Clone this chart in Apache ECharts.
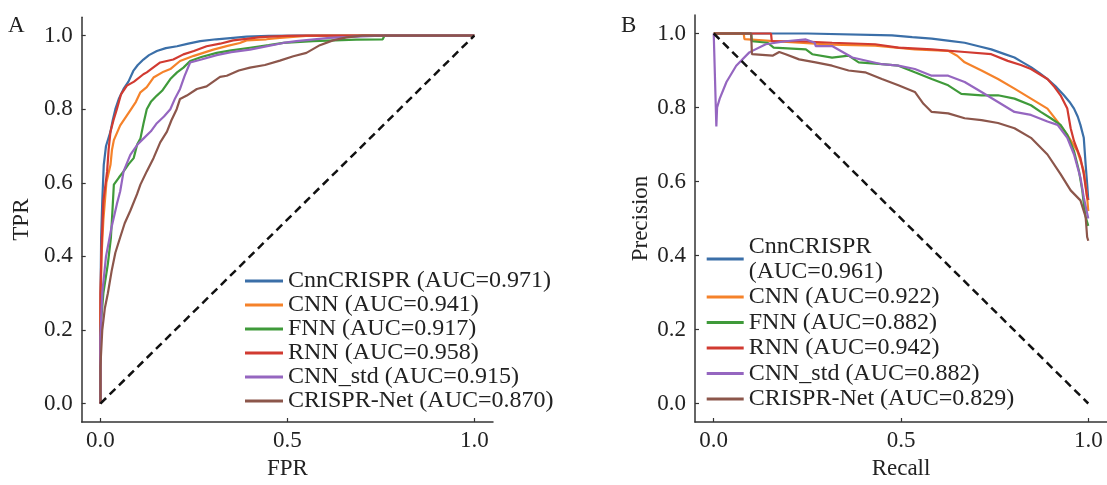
<!DOCTYPE html>
<html>
<head>
<meta charset="utf-8">
<script src="https://cdn.jsdelivr.net/npm/echarts@6/dist/echarts.min.js"></script>
<style>
  html, body { margin: 0; padding: 0; background: #ffffff; }
  #chart { width: 1107px; height: 485px; }
</style>
</head>
<body>
<div id="chart"></div>
<script>
// Model names, in legend order
const modelNames = ['CnnCRISPR', 'CNN', 'FNN', 'RNN', 'CNN_std', 'CRISPR-Net'];
const rocAuc = [0.971, 0.941, 0.917, 0.958, 0.915, 0.870];
const prAuc = [0.961, 0.922, 0.882, 0.942, 0.882, 0.829];
const axisTicks = [0, 0.5, 1];
const yTicks = [0, 0.2, 0.4, 0.6, 0.8, 1.0];

// ROC curves: [FPR, TPR]
const rocCnnCrispr = [[0,0],[0,0.2],[0.001,0.35],[0.002,0.45],[0.005,0.55],[0.009,0.649],[0.015,0.70],[0.027,0.739],[0.033,0.77],[0.04,0.80],[0.05,0.83],[0.062,0.855],[0.075,0.875],[0.088,0.904],[0.1,0.92],[0.115,0.935],[0.13,0.947],[0.151,0.958],[0.175,0.966],[0.205,0.971],[0.235,0.978],[0.267,0.985],[0.31,0.99],[0.355,0.994],[0.391,0.997],[0.45,0.999],[0.525,1.0],[1,1]];
const rocCnn = [[0,0],[0,0.25],[0.003,0.4],[0.008,0.5],[0.016,0.6],[0.027,0.649],[0.031,0.69],[0.036,0.716],[0.053,0.756],[0.08,0.797],[0.095,0.82],[0.107,0.846],[0.124,0.86],[0.142,0.886],[0.169,0.902],[0.187,0.909],[0.213,0.931],[0.25,0.945],[0.302,0.962],[0.34,0.972],[0.373,0.98],[0.391,0.987],[0.444,0.99],[0.48,0.994],[0.55,0.999],[0.6,1.0],[1,1]];
const rocFnn = [[0,0],[0,0.2],[0.008,0.3],[0.02,0.38],[0.028,0.45],[0.032,0.52],[0.036,0.595],[0.05,0.615],[0.062,0.631],[0.075,0.65],[0.089,0.667],[0.098,0.703],[0.107,0.72],[0.115,0.76],[0.124,0.80],[0.135,0.82],[0.151,0.837],[0.165,0.85],[0.187,0.882],[0.205,0.9],[0.222,0.913],[0.24,0.931],[0.27,0.942],[0.311,0.953],[0.35,0.96],[0.4,0.967],[0.45,0.974],[0.489,0.98],[0.569,0.985],[0.684,0.989],[0.755,0.99],[0.76,1.0],[1,1]];
const rocRnn = [[0,0],[0,0.3],[0.004,0.45],[0.008,0.55],[0.018,0.631],[0.022,0.69],[0.027,0.739],[0.035,0.77],[0.044,0.80],[0.055,0.84],[0.071,0.864],[0.09,0.875],[0.115,0.895],[0.124,0.9],[0.14,0.912],[0.16,0.927],[0.195,0.935],[0.222,0.949],[0.25,0.958],[0.284,0.971],[0.32,0.978],[0.355,0.987],[0.39,0.991],[0.427,0.996],[0.5,0.999],[0.55,1.0],[1,1]];
const rocCnnStd = [[0,0],[0,0.18],[0.005,0.3],[0.015,0.4],[0.03,0.48],[0.044,0.542],[0.053,0.577],[0.062,0.631],[0.08,0.676],[0.1,0.705],[0.115,0.72],[0.135,0.74],[0.151,0.762],[0.17,0.78],[0.187,0.80],[0.2,0.83],[0.213,0.855],[0.225,0.89],[0.24,0.927],[0.27,0.935],[0.311,0.947],[0.35,0.955],[0.4,0.962],[0.45,0.972],[0.489,0.98],[0.524,0.985],[0.613,0.994],[0.7,0.998],[0.75,1.0],[1,1]];
const rocCrisprNet = [[0,0],[0,0.1],[0.005,0.2],[0.012,0.26],[0.02,0.3],[0.03,0.36],[0.04,0.41],[0.053,0.452],[0.065,0.49],[0.08,0.524],[0.098,0.569],[0.107,0.595],[0.124,0.631],[0.142,0.667],[0.16,0.71],[0.178,0.739],[0.19,0.77],[0.204,0.80],[0.213,0.828],[0.231,0.837],[0.258,0.855],[0.284,0.862],[0.32,0.888],[0.338,0.891],[0.37,0.905],[0.4,0.913],[0.44,0.92],[0.48,0.932],[0.516,0.944],[0.551,0.953],[0.587,0.974],[0.622,0.987],[0.658,0.995],[0.7,1.0],[1,1]];

// Precision-recall curves: [Recall, Precision]
const prCnnCrispr = [[0,1],[0.25,1],[0.252,0.995],[0.476,0.995],[0.53,0.99],[0.582,0.986],[0.63,0.98],[0.67,0.975],[0.71,0.965],[0.741,0.957],[0.775,0.945],[0.803,0.935],[0.825,0.922],[0.847,0.909],[0.87,0.893],[0.891,0.877],[0.915,0.855],[0.935,0.833],[0.95,0.815],[0.962,0.797],[0.972,0.775],[0.979,0.753],[0.988,0.718],[0.993,0.646],[0.997,0.593],[1.0,0.55]];
const prCnn = [[0,1],[0.08,1],[0.082,0.985],[0.15,0.98],[0.228,0.975],[0.316,0.97],[0.431,0.967],[0.537,0.957],[0.626,0.953],[0.65,0.94],[0.67,0.922],[0.715,0.90],[0.759,0.877],[0.803,0.851],[0.847,0.824],[0.891,0.797],[0.918,0.762],[0.944,0.726],[0.971,0.682],[0.988,0.629],[0.997,0.557],[1.0,0.52]];
const prFnn = [[0,1],[0.10,1],[0.102,0.979],[0.144,0.975],[0.16,0.962],[0.246,0.957],[0.263,0.944],[0.316,0.935],[0.36,0.94],[0.387,0.922],[0.449,0.917],[0.493,0.913],[0.537,0.895],[0.582,0.877],[0.626,0.86],[0.661,0.837],[0.715,0.833],[0.759,0.833],[0.803,0.824],[0.847,0.806],[0.873,0.788],[0.9,0.771],[0.926,0.753],[0.944,0.726],[0.962,0.682],[0.975,0.629],[0.984,0.576],[0.988,0.54],[0.993,0.504],[1.0,0.48]];
const prRnn = [[0,1],[0.153,1],[0.155,0.979],[0.228,0.979],[0.316,0.975],[0.431,0.971],[0.493,0.962],[0.582,0.957],[0.67,0.95],[0.741,0.944],[0.785,0.926],[0.82,0.915],[0.847,0.904],[0.87,0.89],[0.891,0.877],[0.91,0.855],[0.926,0.833],[0.944,0.797],[0.953,0.744],[0.962,0.709],[0.979,0.664],[0.988,0.62],[0.997,0.557],[1.0,0.55]];
const prCnnStd = [[0,1],[0.007,0.749],[0.009,0.8],[0.016,0.824],[0.034,0.869],[0.06,0.913],[0.095,0.949],[0.139,0.971],[0.192,0.979],[0.246,0.984],[0.27,0.975],[0.272,0.966],[0.316,0.966],[0.37,0.935],[0.449,0.917],[0.493,0.913],[0.537,0.904],[0.582,0.886],[0.626,0.886],[0.67,0.869],[0.715,0.842],[0.759,0.815],[0.803,0.788],[0.847,0.78],[0.891,0.762],[0.918,0.753],[0.944,0.718],[0.962,0.673],[0.979,0.611],[0.988,0.557],[1.0,0.50]];
const prCrisprNet = [[0,1],[0.10,1],[0.102,0.944],[0.157,0.94],[0.175,0.95],[0.192,0.944],[0.228,0.93],[0.272,0.922],[0.316,0.913],[0.36,0.90],[0.404,0.895],[0.449,0.877],[0.493,0.86],[0.537,0.842],[0.56,0.81],[0.582,0.788],[0.626,0.784],[0.67,0.771],[0.715,0.766],[0.759,0.758],[0.803,0.744],[0.847,0.718],[0.891,0.673],[0.926,0.62],[0.953,0.576],[0.979,0.549],[0.993,0.504],[0.997,0.45],[1.0,0.44]];

// Chance lines
const rocChance = [[0,0],[1,1]];
const prChance = [[0,1],[1,0]];

const rocCurves = [rocCnnCrispr, rocCnn, rocFnn, rocRnn, rocCnnStd, rocCrisprNet];
const prCurves = [prCnnCrispr, prCnn, prFnn, prRnn, prCnnStd, prCrisprNet];
const colors = ['#3b6fa8', '#f5822a', '#3f9a3a', '#d13a31', '#9566c0', '#8c564b'];

const FONT = 'Liberation Serif';
const TEXT = '#222222';
const AXIS = '#333333';

function label(name, auc) { return name + ' (AUC=' + auc.toFixed(3) + ')'; }
const rocNames = modelNames.map((n, i) => label(n, rocAuc[i]));
const prNames = modelNames.map((n, i) => label(n, prAuc[i]));

function makeAxis(gridIndex, name, nameGap, ticks, isX) {
  return {
    type: 'value', gridIndex, min: -0.05, max: 1.05,
    name, nameLocation: 'middle', nameGap,
    nameTextStyle: { fontFamily: FONT, fontSize: 23, color: TEXT },
    axisLine: { show: true, onZero: false, lineStyle: { color: AXIS, width: 1.5 } },
    axisTick: { show: true, inside: true, length: 4, customValues: ticks, lineStyle: { color: AXIS, width: 1.2 } },
    axisLabel: { customValues: ticks, formatter: v => v.toFixed(1), margin: isX ? 7 : 9,
                 fontFamily: FONT, fontSize: 23, color: TEXT },
    splitLine: { show: false }
  };
}

const series = [];
rocCurves.forEach((d, i) => series.push({
  type: 'line', name: rocNames[i], xAxisIndex: 0, yAxisIndex: 0, data: d,
  showSymbol: false, symbol: 'none', color: colors[i],
  lineStyle: { color: colors[i], width: 2.2 }, itemStyle: { color: colors[i] }
}));
series.push({
  type: 'line', name: 'chance-roc', xAxisIndex: 0, yAxisIndex: 0, data: rocChance,
  showSymbol: false, symbol: 'none', lineStyle: { color: '#111', width: 2.5, type: [8, 5] }, z: 3
});
prCurves.forEach((d, i) => series.push({
  type: 'line', name: prNames[i], xAxisIndex: 1, yAxisIndex: 1, data: d,
  showSymbol: false, symbol: 'none', color: colors[i],
  lineStyle: { color: colors[i], width: 2.2 }, itemStyle: { color: colors[i] }
}));
series.push({
  type: 'line', name: 'chance-pr', xAxisIndex: 1, yAxisIndex: 1, data: prChance,
  showSymbol: false, symbol: 'none', lineStyle: { color: '#111', width: 2.5, type: [8, 5] }, z: 3
});

const legendText = { fontFamily: FONT, fontSize: 24, color: TEXT };

const option = {
  animation: false,
  backgroundColor: '#ffffff',
  title: [
    { text: 'A', left: 8, top: 14, padding: 0, textStyle: { fontFamily: FONT, fontSize: 23, fontWeight: 'normal', color: TEXT } },
    { text: 'B', left: 621, top: 14, padding: 0, textStyle: { fontFamily: FONT, fontSize: 23, fontWeight: 'normal', color: TEXT } }
  ],
  grid: [
    { left: 81.7, top: 17.2, width: 411.3, height: 409.5 },
    { left: 695, top: 15, width: 415, height: 411.7 }
  ],
  xAxis: [
    makeAxis(0, 'FPR', 35, axisTicks, true),
    makeAxis(1, 'Recall', 35, axisTicks, true)
  ],
  yAxis: [
    makeAxis(0, 'TPR', 48, yTicks, false),
    makeAxis(1, 'Precision', 43, yTicks, false)
  ],
  legend: [
    {
      data: rocNames, orient: 'vertical', left: 245, top: 269, padding: 0,
      itemGap: 0, itemWidth: 38, itemHeight: 3, icon: 'rect', selectedMode: false,
      textStyle: Object.assign({ lineHeight: 24 }, legendText)
    },
    {
      data: prNames, orient: 'vertical', left: 706.7, top: 234, padding: 0,
      itemGap: 0.5, itemWidth: 37, itemHeight: 3, icon: 'rect', selectedMode: false,
      formatter: n => n.startsWith('CnnCRISPR') ? n.replace(' (', '\n(') : n,
      textStyle: Object.assign({ lineHeight: 25 }, legendText)
    }
  ],
  series
};

const chart = echarts.init(document.getElementById('chart'), null, { renderer: 'canvas' });
chart.setOption(option);
</script>
</body>
</html>
